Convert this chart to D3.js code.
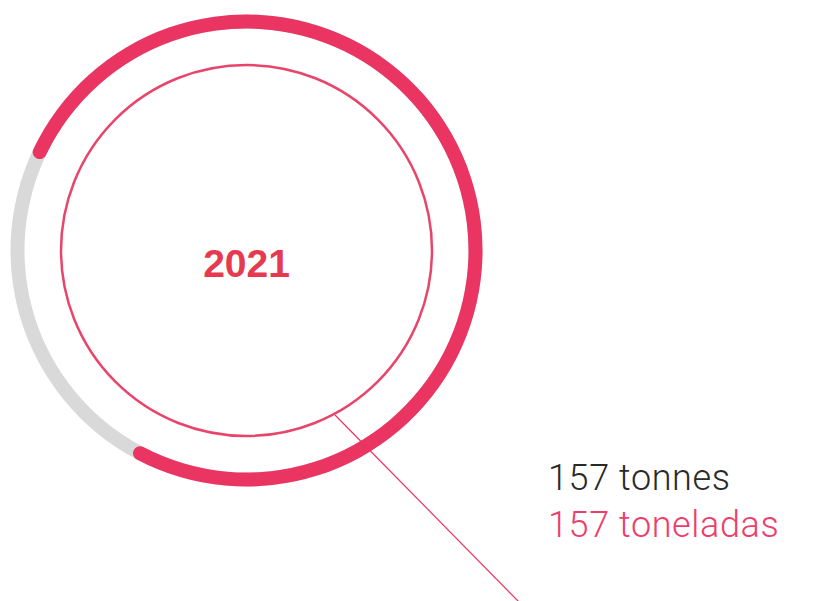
<!DOCTYPE html>
<html>
<head>
<meta charset="utf-8">
<script src="https://cdn.jsdelivr.net/npm/d3@7"></script>
<style>
  body { margin: 0; background: #fff; }
  svg { display: block; }
</style>
</head>
<body>
<div id="chart"></div>
<script>
// data
const year = "2021";
const segments = ["quantity", "rest"];
const shares = [76.6, 23.4];
const labels = ["157 tonnes", "157 toneladas"];

const width = 838, height = 601;
const cx = 246.5, cy = 250.5;
const ringR = 229, ringW = 14;
const innerR = 185.5;

const svg = d3.select("#chart")
  .append("svg")
  .attr("width", width)
  .attr("height", height);

const g = svg.append("g").attr("transform", `translate(${cx},${cy})`);

// pie starts upper-left so the red part ends lower-left
const start = -66.3 * Math.PI / 180;
const pie = d3.pie().sort(null).startAngle(start).endAngle(start + 2 * Math.PI);
const arcs = pie(shares);

const arc = d3.arc()
  .innerRadius(ringR - ringW / 2)
  .outerRadius(ringR + ringW / 2);

// grey track under everything
g.append("path")
  .attr("d", arc({ startAngle: 0, endAngle: 2 * Math.PI }))
  .attr("fill", "#d9d9d9");

// red share with rounded ends
g.append("path")
  .attr("d", arc.cornerRadius(ringW / 2)(arcs[0]))
  .attr("fill", "#ea3461");

// inner thin circle
g.append("circle")
  .attr("r", innerR)
  .attr("fill", "none")
  .attr("stroke", "#e8456b")
  .attr("stroke-width", 2.5);

// pointer line from the inner circle down to the page edge
svg.append("line")
  .attr("x1", 335).attr("y1", 415)
  .attr("x2", 521).attr("y2", 604)
  .attr("stroke", "#ea3461")
  .attr("stroke-width", 1.2);

g.append("text")
  .attr("text-anchor", "middle")
  .attr("y", 26.5)
  .attr("font-family", "Liberation Sans, Arial, sans-serif")
  .attr("font-weight", "bold")
  .attr("font-size", 39)
  .attr("fill", "#e63a50")
  .text(year);

const labelColors = ["#2a2a2a", "#ee3d6a"];
svg.selectAll("text.label")
  .data(labels)
  .enter()
  .append("text")
  .attr("class", "label")
  .attr("x", 548)
  .attr("y", (d, i) => 490 + i * 47)
  .attr("font-family", "Roboto, sans-serif")
  .attr("font-weight", 300)
  .attr("font-size", 36)
  .attr("letter-spacing", 0.6)
  .attr("fill", (d, i) => labelColors[i])
  .text(d => d);
</script>
</body>
</html>
